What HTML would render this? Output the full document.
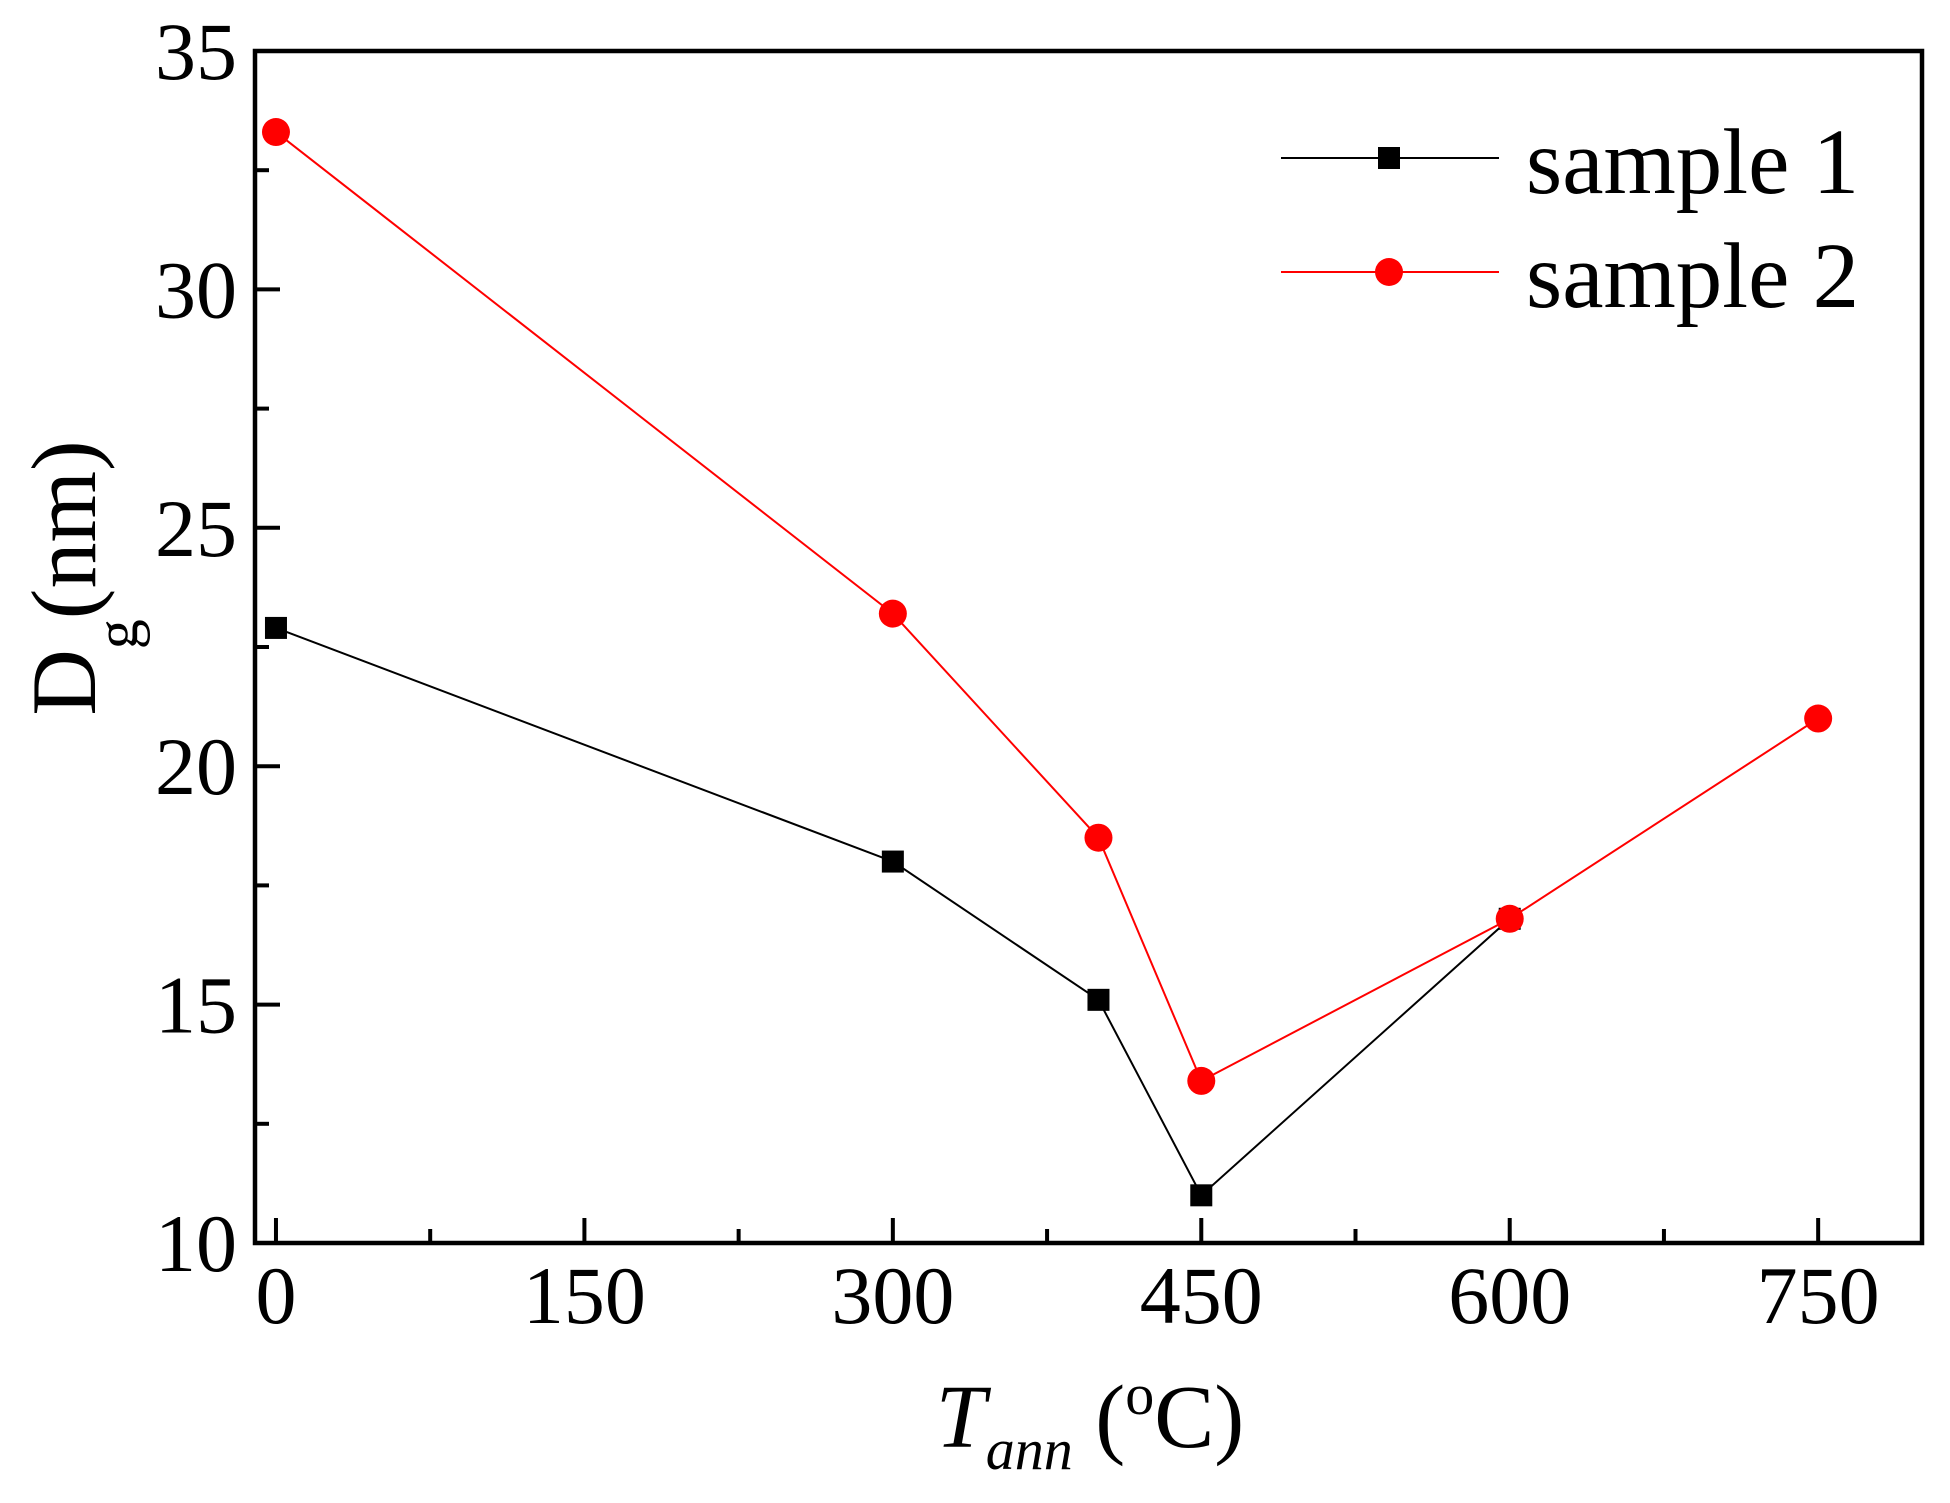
<!DOCTYPE html>
<html><head><meta charset="utf-8"><style>
html,body{margin:0;padding:0;background:#fff;}
svg{display:block;font-family:"Liberation Serif",serif;}
</style></head><body>
<svg id="chart" width="1950" height="1503" viewBox="0 0 1950 1503" xmlns="http://www.w3.org/2000/svg"></svg>
<script>
const xCategories = [0, 300, 400, 450, 600, 750];
const sample1 = [22.9, 18.0, 15.1, 11.0, 16.8, null];
const sample2 = [33.3, 23.2, 18.5, 13.4, 16.8, 21.0];
const xTickLabels = [0, 150, 300, 450, 600, 750];
const yTickLabels = [10, 15, 20, 25, 30, 35];

const L=255, R=1922, T=51, B=1243;
const XMIN=-10.2, XMAX=800.5, YMIN=10, YMAX=35;
const sx = v => L + (v - XMIN) / (XMAX - XMIN) * (R - L);
const sy = v => B - (v - YMIN) / (YMAX - YMIN) * (B - T);
const NS="http://www.w3.org/2000/svg";
const svg=document.getElementById('chart');
function mk(tag, attrs, parent){const e=document.createElementNS(NS,tag);for(const k in attrs)e.setAttribute(k,attrs[k]);(parent||svg).appendChild(e);return e;}

for (let v=0; v<=780; v+=75){
  const major = v%150===0;
  const t=mk('line',{x1:sx(v),x2:sx(v),y1:B,y2:B-(major?25:14),stroke:'#000','stroke-width':4});
  
  
}
for (let v=10; v<=35; v+=2.5){
  const major = v%5===0;
  const t=mk('line',{x1:L,x2:L+(major?25:14),y1:sy(v),y2:sy(v),stroke:'#000','stroke-width':4});
  
  
}
xTickLabels.forEach(v=>{
  const t=mk('text',{x:sx(v),y:1323,'font-size':82,'text-anchor':'middle'});
  t.textContent=v;
  
  
});
yTickLabels.forEach(v=>{
  const t=mk('text',{x:237,y:sy(v)+28,'font-size':82,'text-anchor':'end'});
  t.textContent=v;
  
  
});

function pts(arr){return xCategories.map((x,i)=>arr[i]==null?null:[sx(x),sy(arr[i])]).filter(p=>p);}
const p1=pts(sample1), p2=pts(sample2);
const l1=mk('polyline',{points:p1.map(p=>p.join(',')).join(' '),fill:'none',stroke:'#000','stroke-width':2});


p1.forEach(p=>{
  const m=mk('rect',{x:p[0]-11,y:p[1]-11,width:22,height:22,fill:'#000'});
  
  
});
const l2=mk('polyline',{points:p2.map(p=>p.join(',')).join(' '),fill:'none',stroke:'#f00','stroke-width':2});


p2.forEach(p=>{
  const m=mk('circle',{cx:p[0],cy:p[1],r:14,fill:'#f00'});
  
  
});

const fr=mk('rect',{x:L,y:T,width:R-L,height:B-T,fill:'none',stroke:'#000','stroke-width':4.5});



const lg=mk('g',{});


const e1=mk('g',{},lg);


mk('line',{x1:1281,x2:1499,y1:158,y2:158,stroke:'#000','stroke-width':2},e1);
mk('rect',{x:1378,y:147,width:22,height:22,fill:'#000'},e1);
const t1=mk('text',{x:1526,y:193,'font-size':93},e1); t1.textContent='sample 1';
const e2=mk('g',{},lg);


mk('line',{x1:1281,x2:1499,y1:272,y2:272,stroke:'#f00','stroke-width':2},e2);
mk('circle',{cx:1389,cy:272,r:14,fill:'#f00'},e2);
const t2=mk('text',{x:1526,y:307,'font-size':93},e2); t2.textContent='sample 2';
</script>
<svg style="position:absolute;left:0;top:0" width="1950" height="1503" xmlns="http://www.w3.org/2000/svg" font-family="Liberation Serif, serif">
  <text transform="translate(95,578) rotate(-90)" text-anchor="middle" font-size="92">D<tspan font-size="60" dy="42">g</tspan><tspan dy="-42">(nm)</tspan></text>
  <text x="1090" y="1447" text-anchor="middle" font-size="90"><tspan font-style="italic">T</tspan><tspan font-style="italic" font-size="58" dy="22">ann</tspan><tspan dy="-22"> (</tspan><tspan font-size="58" dy="-33">o</tspan><tspan dy="33">C)</tspan></text>
</svg>
</body></html>
